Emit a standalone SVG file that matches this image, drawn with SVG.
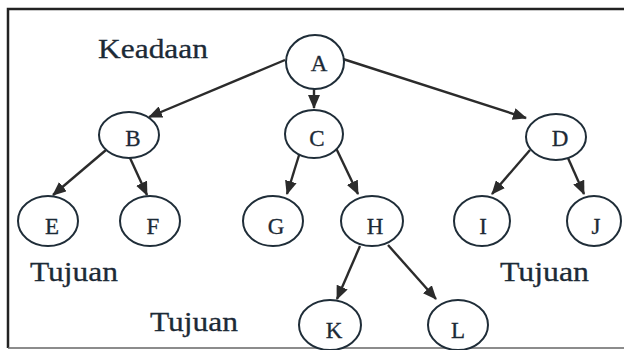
<svg xmlns="http://www.w3.org/2000/svg" width="624" height="350" viewBox="0 0 624 350">
<defs>
<marker id="ah" viewBox="0 0 14 12" refX="13" refY="6" markerWidth="14" markerHeight="12" markerUnits="userSpaceOnUse" orient="auto">
<path d="M0,0 L14,6 L0,12 z" fill="#2b2b2b"/>
</marker>
<style>
.n ellipse{fill:#fff;stroke:#1f2d38;stroke-width:2}
.n text{font-family:"Liberation Serif",serif;font-size:23px;fill:#1c2a36;stroke:#1c2a36;stroke-width:0.3;text-anchor:middle}
.lbl{font-family:"Liberation Serif",serif;font-size:28px;fill:#1c2a36;stroke:#1c2a36;stroke-width:0.3}
#edges line{stroke:#2b2b2b;stroke-width:2.4;marker-end:url(#ah)}
</style>
</defs>
<rect width="624" height="350" fill="#fff"/>
<path d="M8,348 L8,9 L624,9" fill="none" stroke="#222" stroke-width="2.5"/>
<line x1="8" y1="348" x2="624" y2="348" stroke="#666" stroke-width="1.5"/>
<g id="edges">
<line x1="285" y1="60" x2="149" y2="117"/>
<line x1="314" y1="89" x2="314" y2="108"/>
<line x1="343" y1="59" x2="526" y2="118"/>
<line x1="106" y1="150" x2="53" y2="195"/>
<line x1="130" y1="158" x2="147" y2="195"/>
<line x1="300" y1="152" x2="287" y2="194"/>
<line x1="336" y1="148" x2="358" y2="194"/>
<line x1="530" y1="150" x2="492" y2="194"/>
<line x1="568" y1="158" x2="584" y2="194"/>
<line x1="360" y1="246" x2="337" y2="299"/>
<line x1="388" y1="245" x2="436" y2="299"/>
</g>
<g id="A" class="n"><ellipse cx="315" cy="62" rx="29" ry="27"/><text x="319" y="71">A</text></g>
<g id="B" class="n"><ellipse cx="129" cy="135" rx="30" ry="23"/><text x="133" y="146">B</text></g>
<g id="C" class="n"><ellipse cx="314" cy="134" rx="29" ry="24"/><text x="317" y="146">C</text></g>
<g id="D" class="n"><ellipse cx="556" cy="137" rx="30" ry="23"/><text x="560" y="146">D</text></g>
<g id="E" class="n"><ellipse cx="48" cy="221" rx="30" ry="25"/><text x="52" y="234">E</text></g>
<g id="F" class="n"><ellipse cx="150" cy="221" rx="30" ry="25"/><text x="153" y="234">F</text></g>
<g id="G" class="n"><ellipse cx="273" cy="221" rx="30" ry="25"/><text x="276" y="234">G</text></g>
<g id="H" class="n"><ellipse cx="372" cy="221" rx="31" ry="25"/><text x="375" y="234">H</text></g>
<g id="I" class="n"><ellipse cx="482" cy="221" rx="28" ry="25"/><text x="483" y="234">I</text></g>
<g id="J" class="n"><ellipse cx="594" cy="221" rx="27" ry="25"/><text x="596" y="234">J</text></g>
<g id="K" class="n"><ellipse cx="330" cy="325" rx="31" ry="25"/><text x="334" y="338">K</text></g>
<g id="L" class="n"><ellipse cx="458" cy="325" rx="30" ry="25"/><text x="458" y="338">L</text></g>
<text class="lbl" x="98" y="58" textLength="110" lengthAdjust="spacingAndGlyphs">Keadaan</text>
<text class="lbl" x="30" y="281" textLength="88" lengthAdjust="spacingAndGlyphs">Tujuan</text>
<text class="lbl" x="500" y="281" textLength="89" lengthAdjust="spacingAndGlyphs">Tujuan</text>
<text class="lbl" x="150" y="331" textLength="88" lengthAdjust="spacingAndGlyphs">Tujuan</text>
</svg>
